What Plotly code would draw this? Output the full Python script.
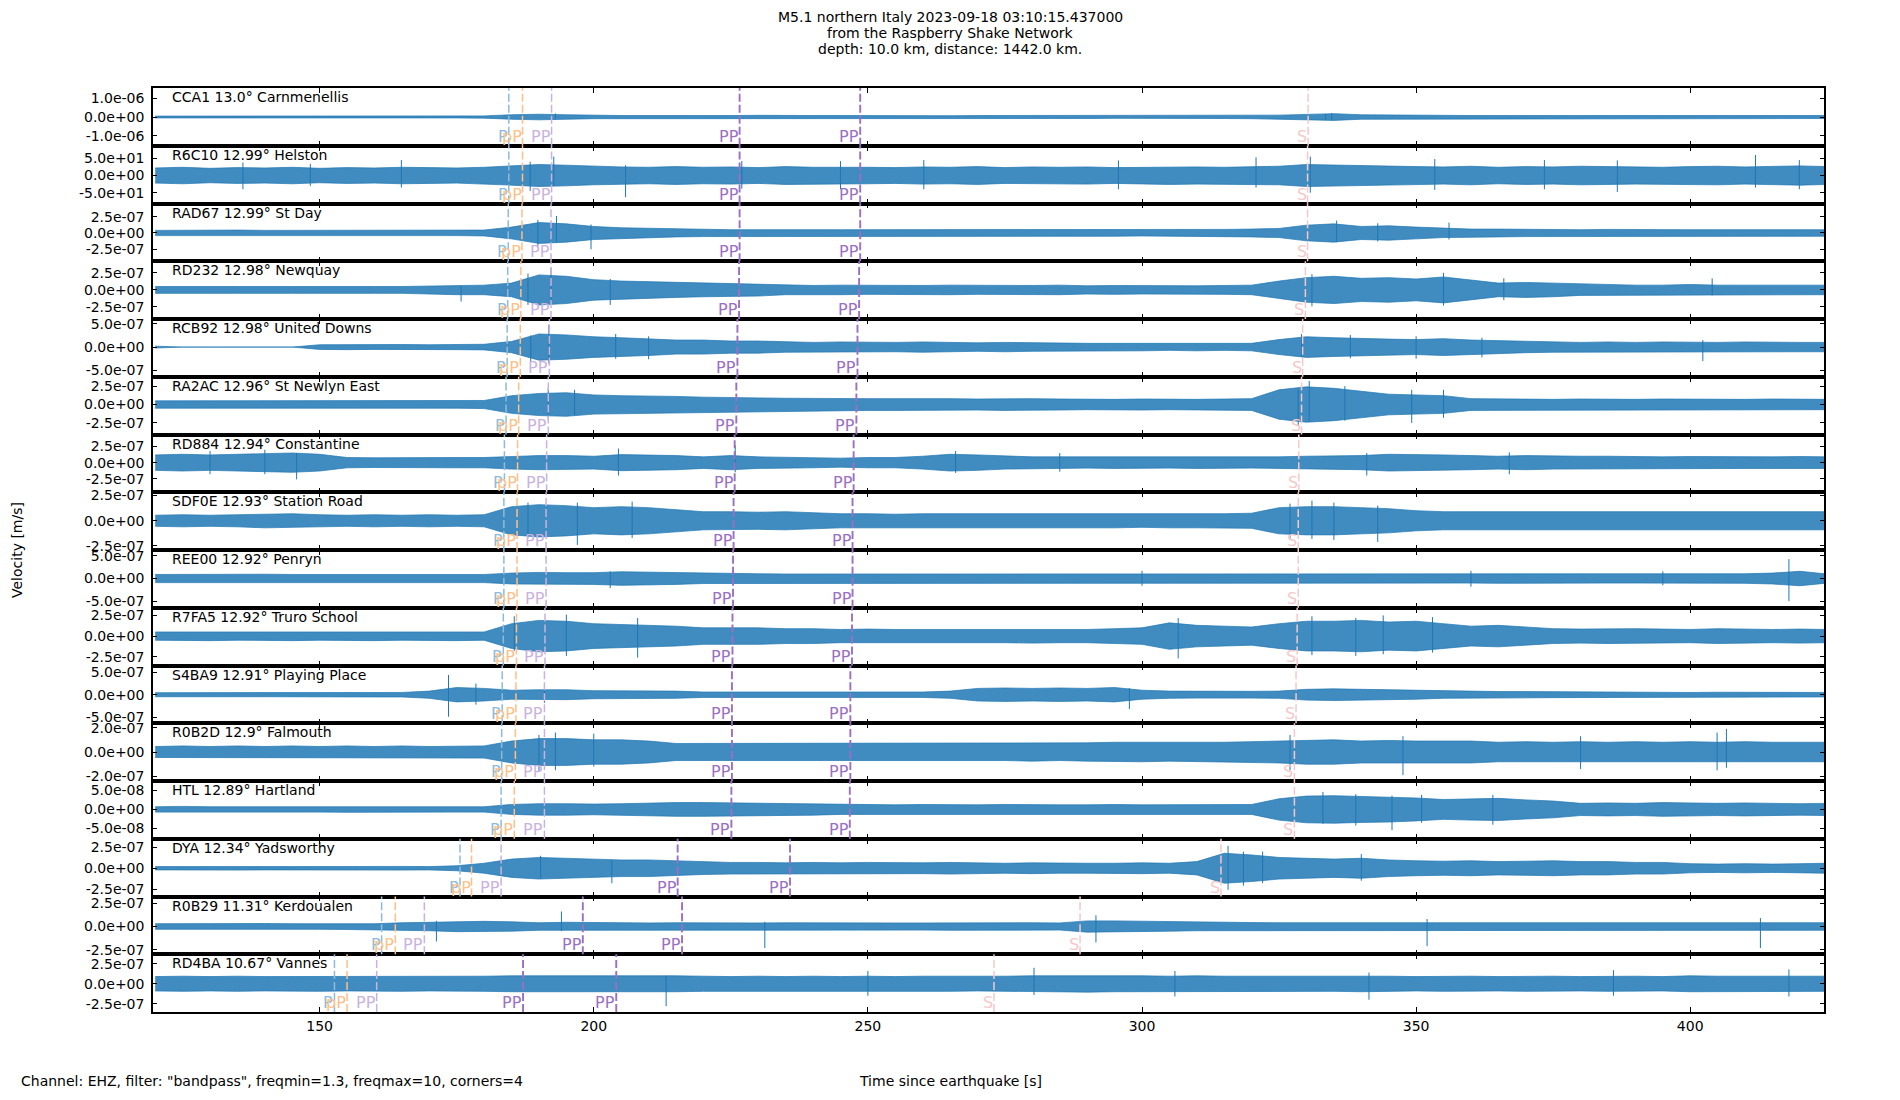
import plotly.graph_objects as go
from plotly.subplots import make_subplots

# ---- text ----
title_lines = [
    "M5.1 northern Italy 2023-09-18 03:10:15.437000",
    "from the Raspberry Shake Network",
    "depth: 10.0 km, distance: 1442.0 km.",
]
footer_text = 'Channel: EHZ, filter: "bandpass", freqmin=1.3, freqmax=10, corners=4'
xlabel_text = "Time since earthquake [s]"
ylabel_text = "Velocity [m/s]"

# ---- stations (top to bottom) ----
stations = ["CCA1", "R6C10", "RAD67", "RD232", "RCB92", "RA2AC", "RD884", "SDF0E",
            "REE00", "R7FA5", "S4BA9", "R0B2D", "HTL", "DYA", "R0B29", "RD4BA"]
distances = ["13.0", "12.99", "12.99", "12.98", "12.98", "12.96", "12.94", "12.93",
             "12.92", "12.92", "12.91", "12.9", "12.89", "12.34", "11.31", "10.67"]
places = ["Carnmenellis", "Helston", "St Day", "Newquay", "United Downs", "St Newlyn East",
          "Constantine", "Station Road", "Penryn", "Truro School", "Playing Place",
          "Falmouth", "Hartland", "Yadsworthy", "Kerdoualen", "Vannes"]

# y tick step (m/s, counts for R6C10)
tick_steps = [1e-6, 50, 2.5e-7, 2.5e-7, 5e-7, 2.5e-7, 2.5e-7, 2.5e-7,
              5e-7, 2.5e-7, 5e-7, 2e-7, 5e-8, 2.5e-7, 2.5e-7, 2.5e-7]
# unit of the amplitude lists below
units = [1e-7, 1, 1e-7, 1e-7, 1e-7, 1e-7, 1e-7, 1e-7,
         1e-7, 1e-7, 1e-7, 1e-7, 1e-8, 1e-7, 1e-7, 1e-7]
y_low = [-15.35, -81.4, -4.33, -4.26, -6.34, -4.07, -4.6, -2.9,
         -6.45, -3.56, -6.35, -2.38, -7.68, -3.4, -2.96, -3.54]
y_high = [15.5, 86.6, 4.52, 4.2, 6.0, 3.77, 4.375, 2.83,
          6.3, 3.43, 6.5, 2.36, 7.45, 3.55, 3.2, 3.7]

x_range = [119.6, 424.4]
x_ticks = [150, 200, 250, 300, 350, 400]

# envelope sample times [s]
t_grid = list(range(120, 430, 5))

# trace envelopes read from the record (half amplitude, in `units`)
env_cca1 = [0.5, 0.5, 0.6, 0.5, 0.5, 0.6, 0.5, 0.5, 0.6, 0.5, 0.5, 0.5, 0.6,
            1.2, 1.5, 1.2, 0.9,
            0.8, 0.8, 0.7, 0.8, 0.8, 0.9, 0.7, 0.8, 0.8, 0.7, 0.8, 0.8, 0.7, 0.8, 0.8, 0.7, 0.8, 0.8, 0.7, 0.8, 0.8, 0.7, 0.8, 0.9, 1.0,
            1.4, 1.8, 1.2, 1.0,
            1.1, 0.9, 0.8, 0.8, 0.9, 0.8, 0.8, 0.8, 0.8, 0.9, 0.8, 0.8, 0.8, 0.8, 0.8, 0.8]
env_r6c10 = [22, 24, 21, 23, 22, 24, 21, 23, 22, 24, 23, 22, 24,
             28, 32, 30, 27,
             25, 24, 26, 24, 25, 23, 26, 24, 25, 24, 23, 25, 24, 26, 23, 25, 24, 25, 23, 24, 26, 25, 24, 26, 27,
             32, 30, 28, 27,
             26, 25, 27, 24, 26, 25, 27, 26, 25, 24, 26, 27, 25, 26, 28, 26]
env_rad67 = [0.4, 0.45, 0.4, 0.45, 0.4, 0.4, 0.45, 0.4, 0.4, 0.45, 0.4, 0.4, 0.45,
             0.9, 1.6, 1.4, 1.0,
             0.8, 0.7, 0.6,
             0.55, 0.5, 0.5, 0.55, 0.5, 0.5, 0.5, 0.45, 0.5, 0.5, 0.45, 0.5, 0.5, 0.45, 0.5, 0.5, 0.45, 0.5, 0.5, 0.55, 0.6, 0.7,
             1.2, 1.4, 1.0, 1.1, 0.9,
             0.7, 0.6, 0.6, 0.55, 0.55, 0.5, 0.55, 0.5, 0.55, 0.5, 0.5, 0.5, 0.45, 0.5, 0.5]
env_rd232 = [0.5, 0.55, 0.5, 0.5, 0.55, 0.5, 0.5, 0.55, 0.5, 0.5, 0.55,
             0.7, 0.7, 1.0, 2.2, 2.0, 1.5, 1.3, 1.2, 1.1, 1.0, 0.9, 0.9,
             0.7, 0.65, 0.7, 0.65, 0.6, 0.65, 0.7, 0.65, 0.6, 0.65, 0.7, 0.6, 0.65, 0.6, 0.65, 0.6, 0.65, 0.7,
             1.3, 1.8, 2.0, 1.7, 1.8, 1.6, 1.9, 1.4,
             1.0, 1.1, 1.0, 0.8, 0.7, 0.7, 0.7, 0.8, 0.7, 0.7, 0.7, 0.7, 0.7]
env_rcb92 = [0.2, 0, 0, 0, 0, 0, 0.5, 0.55, 0.5, 0.55, 0.5, 0.55, 0.6,
             1.2, 2.8, 2.6, 2.2, 2.0, 1.8, 1.5, 1.5, 1.3, 1.3,
             1.1, 1.0, 1.1, 1.0, 1.0, 1.1, 1.0, 0.9, 1.0, 0.9, 0.9, 0.8, 0.8, 0.8, 0.7, 0.8, 0.7, 0.8,
             1.6, 2.2, 2.0, 1.8, 1.7,
             1.6, 1.8, 1.5, 1.4, 1.2,
             1.1, 1.0, 1.1, 1.0, 1.1, 1.0, 1.0, 1.1, 1.0, 1.0, 1.0]
env_ra2ac = [0.5, 0.5, 0.55, 0.5, 0.5, 0.55, 0.5, 0.5, 0.5, 0.55, 0.5, 0.5, 0.55,
             1.2, 1.5, 1.6, 1.3,
             1.2, 1.2, 1.1, 1.0, 1.0, 0.9,
             0.85, 0.8, 0.85, 0.8, 0.8, 0.85, 0.8, 0.75, 0.8, 0.8, 0.75, 0.7, 0.7, 0.75, 0.7, 0.7, 0.75, 0.8,
             2.0, 2.4, 2.2, 1.8,
             1.4, 1.3, 1.2,
             0.8, 0.75, 0.7, 0.7, 0.75, 0.7, 0.7, 0.75, 0.7, 0.7, 0.7, 0.75, 0.7, 0.7]
env_rd884 = [1.2, 1.3, 1.2, 1.3, 1.4, 1.5, 1.3,
             0.8, 0.75, 0.8, 0.75, 0.8, 0.8,
             1.0, 1.1, 1.1, 1.0,
             1.25, 1.2, 1.1,
             0.9, 1.1, 0.9, 0.85, 0.8,
             0.7, 0.8, 0.8, 1.0,
             1.3, 1.2, 1.0, 0.9,
             0.9, 0.85, 0.9, 0.9, 0.85, 0.9, 0.9, 0.85, 0.9, 1.0, 1.0, 1.1,
             1.3, 1.3, 1.2, 1.1,
             1.0, 1.1, 1.0, 1.0, 1.0,
             0.9, 0.9, 0.95, 0.9, 0.9, 0.9, 0.95, 0.9]
env_sdf0e = [0.55, 0.6, 0.55, 0.6, 0.7, 0.7, 0.6, 0.55, 0.6, 0.55, 0.6, 0.55, 0.6,
             1.4, 1.6, 1.5, 1.3,
             1.4, 1.3, 1.1,
             0.9, 0.9, 0.85, 0.9, 0.8,
             0.7, 0.7, 0.65, 0.7, 0.7, 0.65, 0.7, 0.7, 0.65, 0.7, 0.7, 0.65, 0.7, 0.7, 0.7, 0.75,
             1.3, 1.4, 1.4, 1.3, 1.2,
             1.0, 0.9, 0.9, 0.9, 0.85, 0.9, 0.9, 0.85, 0.9, 0.9, 0.85, 0.9, 0.9, 0.85, 0.9, 0.9]
env_ree00 = [0.9, 0.95, 0.9, 0.9, 0.95, 0.9, 0.9, 0.95, 0.9, 0.9, 0.95, 0.9, 0.9,
             1.2, 1.35, 1.3, 1.3,
             1.5, 1.4, 1.3,
             1.1, 1.0, 1.05, 1.0, 1.0, 1.05, 1.0, 1.0, 1.05, 1.0, 1.0, 1.05, 1.0, 1.0, 1.05, 1.0, 1.0, 1.05, 1.0, 1.0,
             1.05, 1.0, 1.0, 1.05, 1.0, 1.0, 1.05, 1.0, 1.0, 1.05, 1.0, 1.0, 1.05, 1.0, 1.0, 1.05, 1.0, 1.0, 1.05,
             1.2, 1.6, 1.0]
env_r7fa5 = [0.5, 0.5, 0.55, 0.5, 0.5, 0.55, 0.5, 0.5, 0.55, 0.5, 0.5, 0.55, 0.5,
             1.5, 1.9, 1.8, 1.5,
             1.4, 1.3, 1.2,
             1.0, 1.0, 1.0, 0.9, 0.9,
             0.8, 0.85, 0.8, 0.8, 0.85, 0.8, 0.8, 0.85, 0.8, 0.8, 0.9, 1.0,
             1.6, 1.3, 1.2, 1.1,
             1.5, 1.8, 1.8, 1.9, 1.7, 1.8, 1.5,
             1.2, 1.3, 1.1,
             0.9, 0.85, 0.9, 0.9, 0.85, 0.8, 0.9, 0.85, 0.8, 0.85, 0.8]
env_s4ba9 = [0.45, 0.45, 0.5, 0.45, 0.45, 0.5, 0.45, 0.45, 0.5, 0.5,
             0.8, 1.6, 1.4,
             1.0, 1.1, 1.1, 0.9,
             0.9, 0.8, 0.8,
             0.6, 0.6, 0.55, 0.6, 0.6, 0.55, 0.6, 0.6, 0.6, 0.8,
             1.4, 1.5, 1.4, 1.5, 1.4, 1.6,
             1.0, 0.8, 0.75, 0.7, 0.75, 0.8,
             1.2, 1.3, 1.2, 1.1, 1.0,
             0.8, 0.75, 0.7, 0.7, 0.65,
             0.55, 0.5, 0.55, 0.5, 0.5, 0.55, 0.5, 0.5, 0.5, 0.5]
env_r0b2d = [0.45, 0.5, 0.45, 0.5, 0.45, 0.5, 0.45, 0.5, 0.45, 0.5, 0.45, 0.5, 0.5,
             0.9, 1.1, 1.1, 1.0, 1.0, 0.9,
             0.7, 0.7, 0.75, 0.7, 0.7, 0.75, 0.7, 0.7, 0.7, 0.7, 0.75, 0.7, 0.7, 0.75, 0.7, 0.75, 0.8, 0.8, 0.75, 0.8, 0.8, 0.85,
             0.9, 1.0, 1.0, 0.9, 0.95, 0.9, 0.9, 0.9,
             0.8, 0.85, 0.8, 0.85, 0.8, 0.85, 0.8, 0.85, 0.8, 0.85, 0.8, 0.8, 0.8]
env_htl = [0.7, 0.8, 0.7, 0.7, 0.8, 0.7, 0.7, 0.75, 0.7, 0.7, 0.75, 0.7, 0.7,
           1.3, 1.5, 1.5, 1.4,
           1.5, 1.7, 1.8, 1.8, 1.7, 1.6, 1.6, 1.5,
           1.3, 1.3, 1.2, 1.3, 1.2, 1.2, 1.3, 1.2, 1.2, 1.2, 1.3, 1.2, 1.2, 1.2, 1.3, 1.3,
           2.8, 3.5, 3.6, 3.4, 3.3, 3.0,
           2.6, 2.8, 2.9, 2.5, 2.2,
           1.6, 1.7, 1.6, 1.8, 1.7, 1.6, 1.7, 1.6, 1.5, 1.6]
env_dya = [0.2, 0.22, 0.2, 0.22, 0.2, 0.2, 0.22, 0.2, 0.2, 0.22, 0.2,
           0.3, 0.6,
           1.1, 1.3, 1.2, 1.1,
           1.0, 1.0, 0.9,
           0.75, 0.7, 0.7, 0.65, 0.7, 0.65, 0.7, 0.65, 0.65, 0.7, 0.65, 0.6, 0.65, 0.6, 0.6, 0.6, 0.65, 0.6, 0.8,
           1.8, 1.6, 1.3, 1.2, 1.1, 1.2, 1.0,
           0.9, 0.85, 0.9, 0.8, 0.85, 0.9, 0.8, 0.8, 0.7, 0.7,
           0.55, 0.5, 0.55, 0.5, 0.55, 0.6]
env_r0b29 = [0.3, 0.32, 0.3, 0.3, 0.32, 0.3, 0.3, 0.32, 0.3,
             0.4, 0.45, 0.55, 0.55, 0.5,
             0.4, 0.45, 0.4, 0.4, 0.38, 0.4, 0.38, 0.4, 0.38, 0.4, 0.38, 0.38, 0.4, 0.38, 0.38, 0.4, 0.38, 0.38, 0.4, 0.38,
             0.6, 0.6, 0.55, 0.5, 0.45,
             0.4, 0.42, 0.4, 0.4, 0.42, 0.4, 0.42, 0.4, 0.4, 0.42, 0.4, 0.4, 0.42, 0.4, 0.42, 0.4, 0.4, 0.42, 0.4, 0.4, 0.42, 0.4, 0.4]
env_rd4ba = [0.9, 0.95, 0.9, 0.95, 0.9, 0.9, 0.95, 0.9, 0.9, 0.95, 0.9, 0.9, 0.95,
             1.0, 1.0, 1.05, 1.0, 1.05, 1.0, 1.0,
             0.95, 0.9, 0.95, 0.9, 0.95, 0.9, 0.95, 0.9, 0.95, 0.95,
             0.9, 0.95, 1.0, 1.0, 1.05, 1.0, 1.0, 0.95, 1.0, 0.95,
             0.95, 1.0, 0.95, 0.95, 1.0, 0.95, 0.9, 0.95, 0.95, 0.9,
             0.95, 0.95, 0.9, 0.95, 0.95, 0.9, 1.0, 0.95, 0.95, 1.0,
             0.95, 0.95]

envelopes = [env_cca1, env_r6c10, env_rad67, env_rd232, env_rcb92, env_ra2ac, env_rd884, env_sdf0e,
             env_ree00, env_r7fa5, env_s4ba9, env_r0b2d, env_htl, env_dya, env_r0b29, env_rd4ba]

# prominent single swings: (time, up, down) in `units`
spikes = [
    [(193.0, 1.9, 1.4), (333.5, 1.6, 1.4), (334.6, 2.0, 1.8)],
    [(192.7, 55, 30), (205.8, 30, 63), (320.8, 53, 35), (330.7, 55, 50), (411.9, 60, 35), (148.3, 34, 30),
     (245.0, 42, 40), (136.0, 38, 40), (164.9, 45, 35), (188.4, 40, 45), (227.0, 42, 38), (260.2, 45, 40),
     (295.7, 44, 40), (353.4, 48, 42), (373.4, 45, 40), (386.7, 44, 48), (419.9, 45, 40)],
    [(189.8, 2.0, 2.0), (193.2, 2.6, 1.5), (199.5, 1.3, 2.5), (335.5, 1.9, 1.4), (356.0, 1.6, 1.0),
     (343.0, 1.5, 1.3)],
    [(175.8, 0.6, 1.7), (188.0, 2.4, 2.2), (192.2, 3.2, 2.0), (203.0, 1.6, 2.2), (331.0, 2.3, 2.4),
     (355.0, 2.5, 2.3), (404.0, 1.7, 0.8), (366.0, 1.7, 1.5)],
    [(191.8, 4.8, 3.5), (188.5, 2.5, 3.0), (329.1, 2.8, 2.0), (402.3, 1.5, 3.0), (204.0, 2.8, 2.5),
     (210.0, 2.3, 2.6), (338.0, 2.6, 2.4), (350.0, 2.3, 2.5), (362.0, 2.0, 2.2)],
    [(191.7, 2.3, 2.1), (196.5, 2.0, 1.5), (328.5, 2.0, 2.9), (330.5, 3.2, 2.3), (349.2, 2.0, 2.5),
     (337.0, 2.5, 2.2), (355.0, 2.0, 1.8)],
    [(145.8, 1.5, 2.6), (225.8, 2.7, 1.5), (266.0, 1.8, 1.6), (341.0, 1.5, 2.0), (367.0, 1.6, 1.8),
     (130.0, 1.8, 1.8), (140.0, 2.0, 1.8), (204.5, 2.2, 2.0), (285.0, 1.5, 1.4)],
    [(188.0, 1.8, 1.7), (197.0, 1.8, 2.4), (327.0, 1.7, 1.9), (343.0, 1.5, 2.1), (207.0, 1.9, 1.7),
     (331.0, 2.0, 1.8), (335.0, 1.8, 1.9)],
    [(418.0, 4.3, 5.0), (203.0, 1.6, 2.1), (300.0, 1.7, 1.6), (360.0, 1.7, 1.8), (395.0, 1.6, 1.5)],
    [(185.5, 2.4, 1.8), (306.6, 2.2, 2.7), (339.0, 2.2, 2.4), (353.0, 2.3, 2.0), (195.0, 2.6, 2.4),
     (208.0, 2.2, 2.6), (331.0, 2.4, 2.3), (344.0, 2.5, 2.2)],
    [(173.5, 4.4, 4.9), (178.5, 2.5, 2.2), (191.0, 1.8, 1.8), (297.7, 1.5, 3.2)],
    [(190.0, 1.4, 1.6), (200.0, 1.5, 1.2), (347.6, 1.3, 1.9), (404.9, 1.6, 1.5), (406.6, 1.9, 1.3),
     (193.0, 1.6, 1.5), (327.0, 1.4, 1.5), (380.0, 1.3, 1.4)],
    [(333.0, 4.6, 3.8), (345.6, 3.6, 5.4), (364.0, 3.8, 4.0), (339.0, 4.0, 4.2), (351.0, 3.8, 3.5)],
    [(190.3, 1.5, 1.2), (203.3, 1.0, 1.8), (315.7, 2.7, 2.6), (318.5, 2.0, 2.1), (322.0, 2.0, 1.8),
     (340.0, 1.7, 1.5)],
    [(171.3, 0.6, 1.6), (194.1, 1.6, 0.5), (231.2, 0.5, 2.3), (291.6, 1.2, 1.7), (352.0, 0.8, 2.1),
     (412.8, 0.9, 2.3)],
    [(213.2, 1.0, 2.8), (280.3, 2.0, 1.4), (341.4, 1.4, 2.0), (250.0, 1.6, 1.5), (306.0, 1.6, 1.6),
     (386.0, 1.7, 1.5), (418.0, 1.8, 1.6)],
]

# predicted arrivals [s]: P, pP, PP, PP, PP, S
phase_names = ["P", "pP", "PP", "PP", "PP", "S"]
phase_times = [
    [184.5, 187.0, 192.3, 226.6, 248.6, 330.3],
    [184.5, 187.0, 192.3, 226.6, 248.6, 330.2],
    [184.4, 186.9, 192.2, 226.6, 248.6, 330.2],
    [184.3, 186.7, 192.2, 226.5, 248.4, 329.8],
    [184.2, 186.6, 191.9, 226.2, 248.1, 329.3],
    [184.0, 186.3, 191.7, 226.0, 247.9, 329.1],
    [183.7, 186.1, 191.4, 225.7, 247.4, 328.6],
    [183.6, 186.0, 191.3, 225.5, 247.2, 328.5],
    [183.6, 186.0, 191.3, 225.4, 247.2, 328.5],
    [183.5, 185.9, 191.1, 225.3, 247.1, 328.3],
    [183.3, 185.8, 191.0, 225.2, 246.8, 328.1],
    [183.2, 185.7, 191.0, 225.2, 246.8, 327.8],
    [183.1, 185.5, 191.0, 225.1, 246.7, 327.8],
    [175.6, 177.7, 183.1, 215.3, 235.8, 314.4],
    [161.3, 163.8, 169.1, 198.0, 216.1, 288.7],
    [152.7, 155.0, 160.4, 187.1, 204.1, 273.0],
]

for name, env in zip(stations, envelopes):
    if len(env) != len(t_grid):
        raise ValueError(f"{name}: {len(env)} values")

BLUE = "#1f77b4"
BAND = "rgba(31,119,180,0.85)"
phase_colors = ["#8fbbd9", "#ffbf86", "#c9b3de", "#9a70c3", "#9a70c3", "#f5c9c9"]
phase_widths = [1.5, 1.5, 1.5, 1.9, 1.9, 1.5]
FONT = "DejaVu Sans"

n = len(stations)
fig = make_subplots(rows=n, cols=1, shared_xaxes=True, vertical_spacing=0)

for i in range(n):
    row = i + 1
    sfx = "" if row == 1 else str(row)
    u = units[i]
    env = envelopes[i]

    # envelope band
    up = [a * u for a in env]
    xs = t_grid + t_grid[::-1]
    ys = up + [-a for a in up[::-1]]
    fig.add_trace(go.Scatter(x=xs, y=ys, mode="lines", fill="toself", fillcolor=BAND,
                             line=dict(color=BLUE, width=0.7), hoverinfo="skip",
                             showlegend=False), row=row, col=1)

    # single large swings
    sx, sy = [], []
    for t, a_up, a_dn in spikes[i]:
        sx += [t, t, None]
        sy += [a_up * u, -a_dn * u, None]
    fig.add_trace(go.Scatter(x=sx, y=sy, mode="lines", line=dict(color=BLUE, width=1.0),
                             hoverinfo="skip", showlegend=False), row=row, col=1)

    # phase markers
    for k, (ph, t) in enumerate(zip(phase_names, phase_times[i])):
        fig.add_shape(type="line", x0=t, x1=t, y0=0, y1=1,
                      xref="x" + sfx, yref="y" + sfx + " domain",
                      line=dict(color=phase_colors[k], width=phase_widths[k], dash="8px,3px"))
        fig.add_annotation(x=t, y=0, xref="x" + sfx, yref="y" + sfx + " domain",
                           text=ph, showarrow=False, xanchor="right", yanchor="bottom",
                           xshift=1, yshift=-2,
                           font=dict(family=FONT, size=16, color=phase_colors[k]))

    # station label
    fig.add_annotation(x=0.0102, y=1, xref="x" + sfx + " domain", yref="y" + sfx + " domain",
                       text=f"{stations[i]} {distances[i]}° {places[i]}", showarrow=False,
                       xanchor="left", yanchor="top", yshift=1,
                       font=dict(family=FONT, size=14, color="black"))

    step = tick_steps[i]
    fig.update_yaxes(range=[y_low[i] * u, y_high[i] * u],
                     tickvals=[step, 0, -step],
                     ticktext=[f"{step:.1e}", f"{0:.1e}", f"{-step:.1e}"],
                     row=row, col=1)

fig.update_xaxes(range=x_range, tickvals=x_ticks, showline=True, linecolor="black",
                 linewidth=1.5, mirror="ticks", ticks="inside", ticklen=5, tickwidth=1,
                 tickcolor="black", showgrid=False, zeroline=False,
                 tickfont=dict(family=FONT, size=14, color="black"))
fig.update_yaxes(showline=True, linecolor="black", linewidth=1.5, mirror="ticks",
                 ticks="inside", ticklen=4, tickwidth=1, tickcolor="black",
                 showgrid=False, zeroline=False, ticklabelstandoff=4,
                 tickfont=dict(family=FONT, size=14, color="black"))

# title lines
for y_px, line in zip([17, 33, 49], title_lines):
    fig.add_annotation(x=0.477, y=(1012 - y_px) / 924, xref="paper", yref="paper",
                       text=line, showarrow=False, xanchor="center", yanchor="middle",
                       font=dict(family=FONT, size=14, color="black"))

fig.add_annotation(x=-0.0814, y=0.5, xref="paper", yref="paper", text=ylabel_text,
                   textangle=-90, showarrow=False, xanchor="center", yanchor="middle",
                   font=dict(family=FONT, size=14, color="black"))
fig.add_annotation(x=-0.0802, y=-0.0747, xref="paper", yref="paper", text=footer_text,
                   showarrow=False, xanchor="left", yanchor="middle",
                   font=dict(family=FONT, size=14, color="black"))
fig.add_annotation(x=0.477, y=-0.0747, xref="paper", yref="paper", text=xlabel_text,
                   showarrow=False, xanchor="center", yanchor="middle",
                   font=dict(family=FONT, size=14, color="black"))

# the page body adds 8px, so margins are shifted up/left by that much
fig.update_layout(width=1900, height=1100, margin=dict(l=145, r=84, t=80, b=96),
                  plot_bgcolor="white", paper_bgcolor="white",
                  font=dict(family=FONT, size=14, color="black"), showlegend=False)

fig.write_html("out.html")
